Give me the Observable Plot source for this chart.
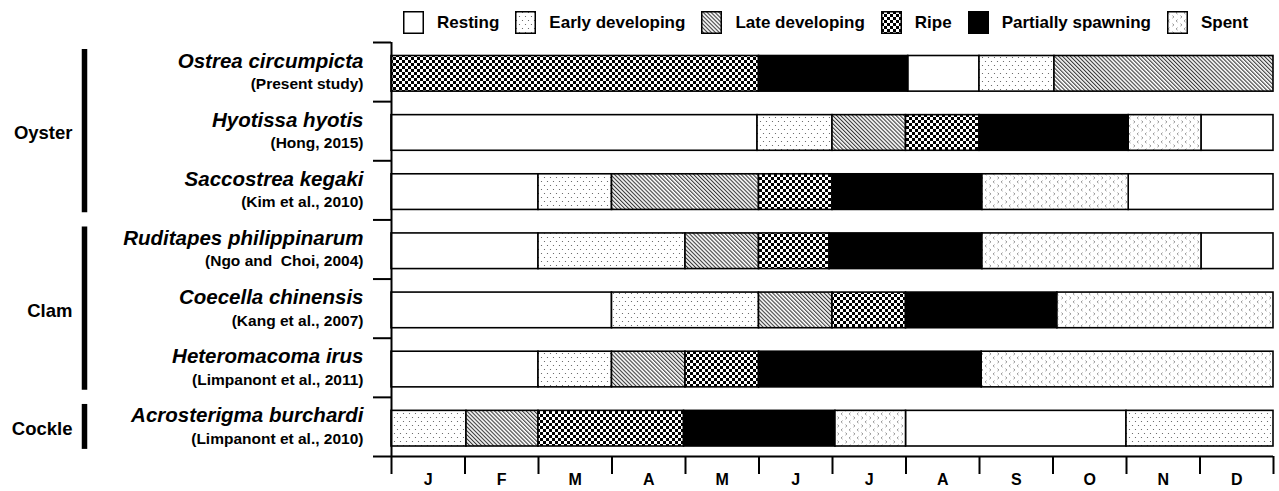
<!DOCTYPE html>
<html><head><meta charset="utf-8">
<script src="https://cdn.jsdelivr.net/npm/d3@7"></script>
<script src="https://cdn.jsdelivr.net/npm/@observablehq/plot@0.6"></script>
<style>
body{margin:0;background:#fff;font-family:"Liberation Sans",Arial,sans-serif;}
#legend{height:36px;display:flex;align-items:center;padding-left:403px;padding-top:9px;box-sizing:border-box;font-weight:bold;font-size:17px;color:#000;}
.item{display:flex;align-items:center;margin-right:16px;}
.item svg{margin-right:13px;display:block;}
</style></head><body>
<svg width="0" height="0" style="position:absolute"><defs>
<pattern id="pat0" width="4" height="4" patternUnits="userSpaceOnUse"><rect width="4" height="4" fill="#fff"/></pattern>
<pattern id="pat1" width="6" height="8" patternUnits="userSpaceOnUse"><rect width="6" height="8" fill="#fff"/><circle cx="1.5" cy="1.5" r="0.6" fill="#555"/><circle cx="4.5" cy="5.5" r="0.6" fill="#555"/></pattern>
<pattern id="pat2" width="2.8" height="6" patternUnits="userSpaceOnUse" patternTransform="rotate(-45)"><rect width="2.8" height="6" fill="#fff"/><line x1="0.6" y1="0" x2="0.6" y2="6" stroke="#222" stroke-width="1"/></pattern>
<pattern id="pat3" width="6" height="6" patternUnits="userSpaceOnUse"><rect width="6" height="6" fill="#fff"/><rect width="3" height="3" fill="#000"/><rect x="3" y="3" width="3" height="3" fill="#000"/></pattern>
<pattern id="pat4" width="4" height="4" patternUnits="userSpaceOnUse"><rect width="4" height="4" fill="#000"/></pattern>
<pattern id="pat5" width="8" height="8" patternUnits="userSpaceOnUse"><rect width="8" height="8" fill="#fff"/><path d="M2.6,0.6L1,1.9L2.6,3.2" stroke="#777" stroke-width="0.7" fill="none"/><path d="M5.4,4.6L7,5.9L5.4,7.2" stroke="#777" stroke-width="0.7" fill="none"/></pattern>
</defs></svg>
<div id="legend"></div><div id="chart"></div>
<script>
const months = ["J","F","M","A","M","J","J","A","S","O","N","D"];
const stages = ["Resting","Early developing","Late developing","Ripe","Partially spawning","Spent"];
const species = ["Ostrea circumpicta","Hyotissa hyotis","Saccostrea kegaki","Ruditapes philippinarum","Coecella chinensis","Heteromacoma irus","Acrosterigma burchardi"];
const citations = ["(Present study)","(Hong, 2015)","(Kim et al., 2010)","(Ngo and  Choi, 2004)","(Kang et al., 2007)","(Limpanont et al., 2011)","(Limpanont et al., 2010)"];
const groups = ["Oyster","Clam","Cockle"];
const groupFirstRow = [0,3,6];
const groupEndRow = [3,6,7];
// [stage index, start month, end month]
const ostrea = [[3,0,5],[4,5,7.03],[0,7.03,8],[1,8,9.02],[2,9.02,12]];
const hyotissa = [[0,0,4.98],[1,4.98,6],[2,6,7],[3,7,8],[4,8,10.03],[5,10.03,11.02],[0,11.02,12]];
const saccostrea = [[0,0,2],[1,2,3],[2,3,5],[3,5,6],[4,6,8.04],[5,8.04,10.03],[0,10.03,12]];
const ruditapes = [[0,0,2],[1,2,4],[2,4,5],[3,5,5.96],[4,5.96,8.04],[5,8.04,11.02],[0,11.02,12]];
const coecella = [[0,0,3],[1,3,5],[2,5,6],[3,6,7],[4,7,9.06],[5,9.06,12]];
const heteromacoma = [[0,0,2],[1,2,3],[2,3,4],[3,4,5],[4,5,8.03],[5,8.03,12]];
const acrosterigma = [[1,0,1.02],[2,1.02,2],[3,2,3.98],[4,3.98,6.04],[5,6.04,7],[0,7,10],[1,10,12]];

const rows = [ostrea,hyotissa,saccostrea,ruditapes,coecella,heteromacoma,acrosterigma];
const segments = rows.flatMap((segs,row)=>segs.map(([stage,start,end])=>({row,stage,start,end})));

// legend
const legend = document.getElementById("legend");
stages.forEach((s,k)=>{
  const it = document.createElement("div");
  it.className = "item";
  it.innerHTML = `<svg width="21" height="23"><rect x="0.75" y="0.75" width="19.5" height="21.5" fill="url(#pat${k})" stroke="#000" stroke-width="1.5"/></svg><span>${s}</span>`;
  legend.appendChild(it);
});

const tickLeft = -18/73.5;
const plot = Plot.plot({
  width: 1279,
  height: 455,
  marginLeft: 391,
  marginRight: 6,
  marginTop: 6,
  marginBottom: 35,
  style: {fontFamily: "Liberation Sans, Arial, sans-serif", color: "#000", background: "#fff"},
  x: {domain: [0,12], label: null},
  y: {domain: [0,7], reverse: true, axis: null},
  marks: [
    ...stages.map((s,k)=>Plot.rect(segments.filter(d=>d.stage===k), {
      x1: "start", x2: "end", y1: "row", y2: d=>d.row+1,
      insetTop: 13.5, insetBottom: 10,
      fill: `url(#pat${k})`, stroke: "#000", strokeWidth: 1.6
    })),
    Plot.ruleY(d3.range(8), {x1: tickLeft, x2: 0, strokeWidth: 2}),
    Plot.ruleY([7], {x1: 0, x2: 12, strokeWidth: 2}),
    Plot.ruleX([0], {y1: 0, y2: 7, strokeWidth: 2}),
    Plot.axisX(d3.range(13), {tickSize: 18, tickFormat: () => "", strokeWidth: 2, label: null}),
    Plot.text(months, {x: (d,i)=>i+0.5, text: d=>d, frameAnchor: "bottom", dy: 28, fontSize: 16, fontWeight: "bold"}),
    Plot.text(species, {x: 0, y: (d,i)=>i+0.5, text: d=>d, dx: -28, dy: -11, textAnchor: "end", fontSize: 20.5, fontWeight: "bold", fontStyle: "italic"}),
    Plot.text(citations, {x: 0, y: (d,i)=>i+0.5, text: d=>d, dx: -28, dy: 12, textAnchor: "end", fontSize: 15.5, fontWeight: "bold"}),
    Plot.ruleX(groups, {x: 0, dx: -307, y1: (d,i)=>groupFirstRow[i]+0.12, y2: (d,i)=>groupEndRow[i]-0.12, strokeWidth: 5.5}),
    Plot.text(groups, {x: 0, y: (d,i)=>(groupFirstRow[i]+groupEndRow[i])/2, text: d=>d, dx: -319, dy: 2, textAnchor: "end", fontSize: 18.5, fontWeight: "bold"})
  ]
});
document.getElementById("chart").appendChild(plot);
</script>
</body></html>
